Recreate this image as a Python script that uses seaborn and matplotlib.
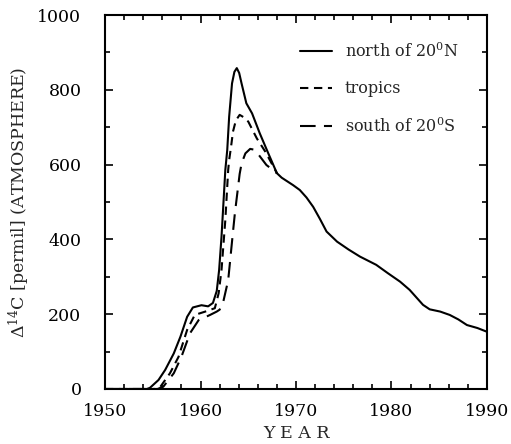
import matplotlib
matplotlib.use("Agg")
import matplotlib.pyplot as plt
import seaborn as sns
import pandas as pd
from matplotlib.ticker import MultipleLocator
from matplotlib.lines import Line2D

# ---- data ----
north_year = [1950, 1954.4, 1954.7, 1955.6, 1956.3, 1957.2, 1957.9, 1958.6, 1959.2, 1960.1,
              1960.8, 1961.3, 1961.7, 1961.95, 1962.2, 1962.6, 1962.8, 1963.0, 1963.3, 1963.55,
              1963.8, 1964.05, 1964.3, 1964.8, 1965.4, 1966.2, 1967.1, 1968.0, 1968.5, 1969.7,
              1970.4, 1971.1, 1971.8, 1972.5, 1973.2, 1974.3, 1975.5, 1976.7, 1978.4, 1979.6,
              1980.9, 1981.9, 1982.6, 1983.3, 1984.0, 1985.1, 1986.1, 1987.0, 1987.9, 1989.0,
              1990]
north_val = [0, 0, 3, 24, 51, 95, 140, 193, 218, 224,
             221, 230, 262, 318, 407, 586, 639, 728, 817, 848,
             858, 845, 817, 764, 737, 684, 630, 577, 565, 545,
             532, 512, 487, 455, 421, 394, 373, 354, 332, 310,
             287, 265, 245, 225, 213, 207, 198, 186, 171, 163,
             153]

trop_year = [1950, 1955.2, 1955.8, 1956.8, 1957.7, 1958.6, 1959.4, 1960.5, 1961.5, 1961.9,
             1962.2, 1962.6, 1962.9, 1963.0, 1963.2, 1963.4, 1963.7, 1964.1, 1964.5, 1965.0,
             1965.9, 1966.8, 1968.0]
trop_val = [0, 0, 6, 42, 86, 158, 198, 207, 216, 256,
            318, 452, 586, 612, 648, 688, 718, 733, 727, 715,
            670, 634, 577]

south_year = [1950, 1955.5, 1956.1, 1957.2, 1958.0, 1958.9, 1959.8, 1961.0, 1961.7, 1962.0,
              1962.4, 1962.9, 1963.35, 1963.6, 1964.1, 1964.3, 1964.7, 1965.2, 1965.6, 1966.1,
              1966.9, 1968.0]
south_val = [0, 0, 6, 42, 86, 149, 184, 198, 207, 212,
             235, 291, 407, 470, 575, 603, 630, 642, 640, 626,
             599, 577]

labels = [r"north of 20$^{0}$N", "tropics", r"south of 20$^{0}$S"]
xticks = [1950, 1960, 1970, 1980, 1990]
yticks = [0, 200, 400, 600, 800, 1000]

sns.set_theme(style="ticks")
plt.rcParams["font.family"] = ["DejaVu Serif"]
plt.rcParams["mathtext.fontset"] = "dejavuserif"

fig = plt.figure(figsize=(5.11, 4.44), dpi=100)
ax = fig.add_axes([0.2055, 0.1239, 0.7475, 0.8423])

dashes = [None, (4, 2.7), (7.5, 4)]
series = [(north_year, north_val), (trop_year, trop_val), (south_year, south_val)]
handles = []
for (yr, v), lab, dash in zip(series, labels, dashes):
    df = pd.DataFrame({"year": yr, "val": v})
    sns.lineplot(data=df, x="year", y="val", ax=ax, color="black", lw=1.5,
                 sort=False, estimator=None)
    line = ax.lines[-1]
    line.set_solid_joinstyle("round")
    line.set_dash_joinstyle("round")
    if dash is not None:
        line.set_dashes(dash)
    h = Line2D([0], [0], color="black", lw=1.5)
    if dash is not None:
        h.set_dashes(dash)
    handles.append(h)

ax.set_xlim(1950, 1990)
ax.set_ylim(0, 1000)
ax.set_xticks(xticks)
ax.set_yticks(yticks)
ax.xaxis.set_minor_locator(MultipleLocator(2))
ax.yaxis.set_minor_locator(MultipleLocator(100))
ax.tick_params(which="both", direction="in", top=True, right=True, colors="black",
               labelsize=12.5, width=1.2)
ax.tick_params(axis="y", which="major", length=6, pad=17)
ax.tick_params(axis="x", which="major", length=6, pad=10)
ax.tick_params(which="minor", length=3.5)
for s in ax.spines.values():
    s.set_linewidth(1.5)
    s.set_color("black")

ax.set_xlabel("Y E A R", fontsize=12.5, labelpad=4)
ax.set_ylabel(r"$\Delta^{14}$C [permil] (ATMOSPHERE)", fontsize=12.5, labelpad=4)

leg = ax.legend(handles, labels, loc="upper left", frameon=False, fontsize=11.5,
                handlelength=2.0, handletextpad=0.8, labelspacing=1.22,
                borderpad=0, borderaxespad=0,
                bbox_to_anchor=(0.5105, 0.927))

fig.savefig("out.png", dpi=100)
